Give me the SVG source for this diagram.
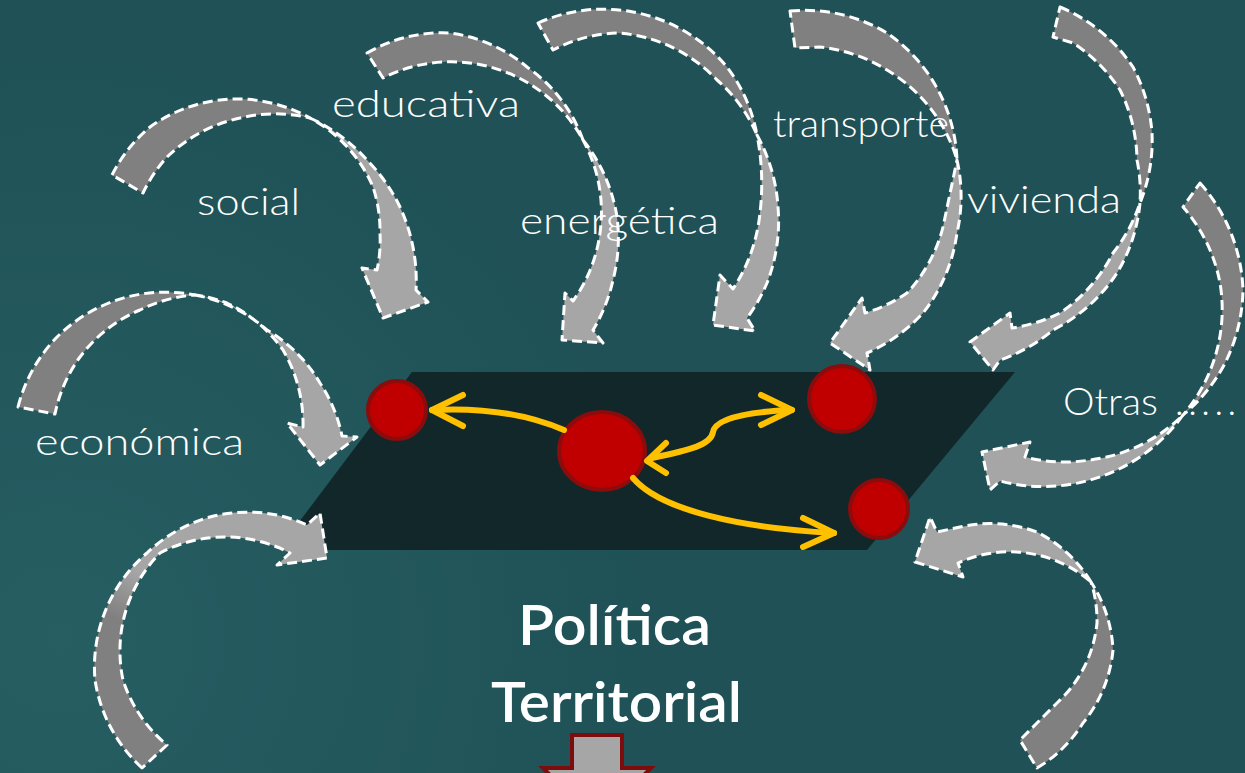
<svg xmlns="http://www.w3.org/2000/svg" width="1245" height="773" viewBox="0 0 1245 773">
<defs>
<radialGradient id="bg" gradientUnits="userSpaceOnUse" cx="60" cy="640" r="620">
<stop offset="0" stop-color="#265e62"/>
<stop offset="1" stop-color="#1f5156"/>
</radialGradient>
<linearGradient id="gBL" gradientUnits="userSpaceOnUse" x1="110" y1="615" x2="135" y2="570">
<stop offset="0" stop-color="#808080"/>
<stop offset="1" stop-color="#a6a6a6"/>
</linearGradient>
<style>
.tail{fill:#808080;stroke:#fff;stroke-width:3;stroke-dasharray:10 5;stroke-linejoin:round}
.head{fill:#a6a6a6;stroke:#fff;stroke-width:3;stroke-dasharray:10 5;stroke-linejoin:round}
.node{fill:#c00000;stroke:#8a0c0c;stroke-width:4}
.link{fill:none;stroke:#ffc000;stroke-width:6;stroke-linecap:round;stroke-linejoin:round}
.lbl{fill:#fff;font-family:Lato,'Open Sans','DejaVu Sans',sans-serif;font-weight:300;font-size:37px}
.title{fill:#fff;font-family:Lato,'Open Sans','DejaVu Sans',sans-serif;font-weight:600;font-size:56px}
</style>
</defs>
<rect width="1245" height="773" fill="url(#bg)"/>
<g id="plane"><polygon points="412,372 1015,372 867,550 278,550" fill="#11272a"/></g>
<g id="nodes">
<g id="n-left"><ellipse class="node" cx="397" cy="410" rx="29" ry="29"/></g>
<g id="n-center"><ellipse class="node" cx="602" cy="451" rx="43" ry="39"/></g>
<g id="n-topright"><ellipse class="node" cx="842" cy="399" rx="33" ry="33"/></g>
<g id="n-botright"><ellipse class="node" cx="879" cy="509" rx="29" ry="29"/></g>
</g>
<g id="connectors">
<path class="link" d="M564,430 Q508,406 432,410"/>
<path class="link" d="M463,395 L432,410 L463,426"/>
<path class="link" d="M652,458 C690,450 711,445 713,432 C715,420 740,412 792,410"/>
<path class="link" d="M761,395 L792,410 L761,425"/>
<path class="link" d="M666,443 L647,461 L666,473"/>
<path class="link" d="M633,478 C660,510 740,528 834,533"/>
<path class="link" d="M803,518 L834,533 L803,547"/>
</g>
<g id="arrow-social">
<path class="tail" d="M112,175 A150,150 0 0 1 150,127 A150,150 0 0 1 233,99 A150,150 0 0 1 310,118 A150,150 0 0 0 240,118 A150,150 0 0 0 167,157 A150,150 0 0 0 143,193 Z"/>
<path class="head" d="M310,118 A175,175 0 0 1 367,160 A175,175 0 0 1 400,207 A175,175 0 0 1 416,290 L428,302 L383,318 L362,268 L377,270 A140,140 0 0 0 380,233 A140,140 0 0 0 373,187 A140,140 0 0 0 310,118 Z"/>
</g>
<g id="arrow-educativa">
<path class="tail" d="M367,53 A150,150 0 0 1 450,33 A150,150 0 0 1 527,67 A150,150 0 0 1 583,140 A150,150 0 0 0 517,77 A150,150 0 0 0 443,62 A150,150 0 0 0 383,78 Z"/>
<path class="head" d="M583,140 A165,165 0 0 1 617,217 A165,165 0 0 1 613,280 A165,165 0 0 1 593,330 L603,343 L562,340 L565,293 L573,301 A150,150 0 0 0 600,233 A150,150 0 0 0 583,140 Z"/>
</g>
<g id="arrow-energetica">
<path class="tail" d="M538,23 A160,160 0 0 1 633,12 A160,160 0 0 1 727,67 A160,160 0 0 1 757,135 A150,150 0 0 0 717,80 A150,150 0 0 0 617,33 A150,150 0 0 0 553,50 Z"/>
<path class="head" d="M757,135 A170,170 0 0 1 778,207 A170,170 0 0 1 767,283 A170,170 0 0 1 747,318 L755,331 L713,325 L720,275 L733,289 A170,170 0 0 0 760,213 A250,250 0 0 0 757,135 Z"/>
</g>
<g id="arrow-transporte">
<path class="tail" d="M790,11 A160,160 0 0 1 887,33 A160,160 0 0 1 947,110 A160,160 0 0 1 957,160 A160,160 0 0 0 943,127 A160,160 0 0 0 887,70 A160,160 0 0 0 820,47 L795,48 Z"/>
<path class="head" d="M957,160 A165,165 0 0 1 957,233 A165,165 0 0 1 923,313 A165,165 0 0 1 867,353 L870,370 L830,343 L862,298 L865,313 A150,150 0 0 0 907,293 A150,150 0 0 0 943,227 L957,160 Z"/>
</g>
<g id="arrow-vivienda">
<path class="tail" d="M1060,7 A165,165 0 0 1 1133,67 A165,165 0 0 1 1152,133 A165,165 0 0 1 1140,203 A160,160 0 0 0 1137,160 A160,160 0 0 0 1120,90 A160,160 0 0 0 1073,43 L1053,37 Z"/>
<path class="head" d="M1140,203 A165,165 0 0 1 1117,273 A165,165 0 0 1 1053,330 A165,165 0 0 1 1000,360 L993,370 L970,342 L1010,313 L1012,328 A160,160 0 0 0 1060,313 A160,160 0 0 0 1113,253 A160,160 0 0 0 1140,203 Z"/>
</g>
<g id="arrow-otras">
<path class="tail" d="M1200,183 A170,170 0 0 1 1243,290 A170,170 0 0 1 1223,367 A170,170 0 0 1 1183,415 A160,160 0 0 0 1213,363 A160,160 0 0 0 1220,283 A160,160 0 0 0 1183,207 Z"/>
<path class="head" d="M1183,415 A170,170 0 0 1 1090,480 A170,170 0 0 1 1000,481 L990,490 L982,452 L1030,442 L1025,457 A160,160 0 0 0 1090,460 A160,160 0 0 0 1183,415 Z"/>
</g>
<g id="arrow-economica">
<path class="tail" d="M18,407 A155,155 0 0 1 57,337 A155,155 0 0 1 127,297 A155,155 0 0 1 195,295 A145,145 0 0 0 140,310 A145,145 0 0 0 80,357 A145,145 0 0 0 55,414 Z"/>
<path class="head" d="M195,295 A150,150 0 0 1 267,330 A150,150 0 0 1 320,383 A150,150 0 0 1 342,436 L357,437 L320,465 L287,423 L303,427 A145,145 0 0 0 283,350 A145,145 0 0 0 227,303 A145,145 0 0 0 195,295 Z"/>
</g>
<g id="arrow-bottomleft">
<path class="head" style="fill:url(#gBL)" d="M142,768 A150,150 0 0 1 95,680 A150,150 0 0 1 107,607 A150,150 0 0 1 147,553 A150,150 0 0 1 210,517 A150,150 0 0 1 277,515 A150,150 0 0 1 307,525 L320,513 L327,558 L277,565 L290,553 A140,140 0 0 0 227,537 A140,140 0 0 0 160,553 A140,140 0 0 0 127,607 A140,140 0 0 0 123,680 A140,140 0 0 0 167,745 Z"/>
</g>
<g id="arrow-bottomright">
<path class="tail" d="M1037,768 A135,135 0 0 0 1083,723 A135,135 0 0 0 1113,650 A135,135 0 0 0 1091,582 A125,125 0 0 1 1097,623 A125,125 0 0 1 1057,703 L1020,740 Z"/>
<path class="head" d="M1091,582 A135,135 0 0 0 1037,532 A135,135 0 0 0 960,527 L937,532 L930,517 L915,562 L963,577 L958,563 A125,125 0 0 1 1017,552 A125,125 0 0 1 1091,582 Z"/>
</g>
<g id="arrow-down">
<path d="M572,735 H622 V768 H651 L597,822 L543,768 H572 Z" fill="#a6a6a6" stroke="#7d0c0c" stroke-width="4"/>
</g>
<g id="labels">
<text class="lbl" x="197" y="215" textLength="103" lengthAdjust="spacingAndGlyphs">social</text>
<text class="lbl" x="332" y="117" textLength="188" lengthAdjust="spacingAndGlyphs">educativa</text>
<text class="lbl" x="520" y="234" textLength="199" lengthAdjust="spacingAndGlyphs">energética</text>
<text class="lbl" x="773" y="137" textLength="176" lengthAdjust="spacingAndGlyphs">transporte</text>
<text class="lbl" x="967" y="213" textLength="154" lengthAdjust="spacingAndGlyphs">vivienda</text>
<text class="lbl" x="35" y="455" textLength="209" lengthAdjust="spacingAndGlyphs">económica</text>
<text class="lbl" x="1063" y="415"><tspan textLength="95" lengthAdjust="spacingAndGlyphs">Otras</tspan><tspan x="1175" style="letter-spacing:4.5px">.....</tspan></text>
<text class="title" x="518" y="645" textLength="193" lengthAdjust="spacingAndGlyphs">Política</text>
<text class="title" x="491" y="722" textLength="251" lengthAdjust="spacingAndGlyphs">Territorial</text>
</g>
</svg>
